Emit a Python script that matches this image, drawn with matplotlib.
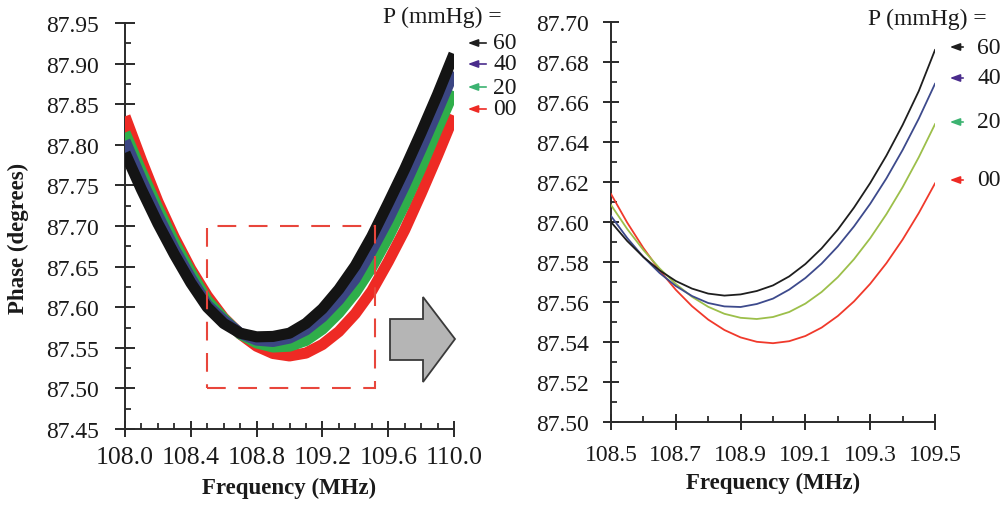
import matplotlib
matplotlib.use("Agg")
import matplotlib.pyplot as plt
from matplotlib.patches import Polygon, Rectangle, FancyArrowPatch
from matplotlib.ticker import FixedLocator, FormatStrFormatter

plt.rcParams['font.family'] = ['Liberation Serif', 'DejaVu Serif']

# ---------------- data ----------------
pressures = ["60", "40", "20", "00"]

# left panel: measured phase bands (center of scatter), 108.0 .. 110.0 MHz
freq_full = [108.0, 108.1, 108.2, 108.3, 108.4, 108.5, 108.6, 108.7, 108.8, 108.9,
             109.0, 109.1, 109.2, 109.3, 109.4, 109.5, 109.6, 109.7, 109.8, 109.9, 110.0]
full_60 = [87.790, 87.745, 87.703, 87.665, 87.630, 87.600, 87.580, 87.568, 87.5635, 87.564,
           87.568, 87.580, 87.598, 87.622, 87.651, 87.687, 87.728, 87.770, 87.815, 87.862, 87.912]
full_40 = [87.805, 87.757, 87.713, 87.672, 87.636, 87.603, 87.584, 87.568, 87.5595, 87.5578,
           87.562, 87.572, 87.588, 87.609, 87.635, 87.670, 87.708, 87.750, 87.795, 87.842, 87.890]
full_20 = [87.815, 87.767, 87.722, 87.680, 87.643, 87.6085, 87.586, 87.567, 87.556, 87.551,
           87.552, 87.559, 87.573, 87.593, 87.618, 87.649, 87.686, 87.727, 87.772, 87.820, 87.866]
full_00 = [87.835, 87.781, 87.730, 87.686, 87.647, 87.614, 87.587, 87.567, 87.552, 87.543,
           87.540, 87.5435, 87.554, 87.570, 87.592, 87.620, 87.656, 87.695, 87.740, 87.787, 87.836]

# right panel: fitted curves, 108.5 .. 109.5 MHz
freq_zoom = [108.5, 108.55, 108.6, 108.65, 108.7, 108.75, 108.8, 108.85, 108.9, 108.95, 109.0,
             109.05, 109.1, 109.15, 109.2, 109.25, 109.3, 109.35, 109.4, 109.45, 109.5]
fit_60 = [87.6000, 87.5905, 87.5825, 87.5758, 87.5705, 87.5667, 87.5642, 87.5632, 87.5638, 87.5655,
          87.5683, 87.5728, 87.5790, 87.5868, 87.5962, 87.6072, 87.6195, 87.6332, 87.6485, 87.6655,
          87.6860]
fit_40 = [87.6030, 87.5920, 87.5825, 87.5745, 87.5680, 87.5630, 87.5595, 87.5578, 87.5575, 87.5590,
          87.5617, 87.5662, 87.5720, 87.5792, 87.5878, 87.5978, 87.6091, 87.6218, 87.6360, 87.6517,
          87.6691]
fit_20 = [87.6085, 87.5965, 87.5860, 87.5768, 87.5690, 87.5626, 87.5576, 87.5541, 87.5521, 87.5515,
          87.5525, 87.5550, 87.5592, 87.5650, 87.5724, 87.5814, 87.5919, 87.6039, 87.6174, 87.6324,
          87.6489]
fit_00 = [87.6140, 87.5997, 87.5870, 87.5758, 87.5661, 87.5579, 87.5512, 87.5460, 87.5423, 87.5401,
          87.5394, 87.5404, 87.5430, 87.5472, 87.5530, 87.5603, 87.5691, 87.5794, 87.5912, 87.6045,
          87.6193]

# tick positions / labels
left_xticks = [108.0, 108.4, 108.8, 109.2, 109.6, 110.0]
left_yticks = [87.45, 87.50, 87.55, 87.60, 87.65, 87.70, 87.75, 87.80, 87.85, 87.90, 87.95]
right_xticks = [108.5, 108.7, 108.9, 109.1, 109.3, 109.5]
right_yticks = [87.50, 87.52, 87.54, 87.56, 87.58, 87.60, 87.62, 87.64, 87.66, 87.68, 87.70]

left_colors = {"60": "#141414", "40": "#3b4683", "20": "#2fae4a", "00": "#ee2a24"}
right_colors = {"60": "#1e1e1e", "40": "#3d4a8c", "20": "#9cbf4a", "00": "#f0392b"}
arrow_colors = {"60": "#1e1e1e", "40": "#4a2c8c", "20": "#3cb371", "00": "#ee2a24"}

W, H = 1005, 506
fig = plt.figure(figsize=(W / 100, H / 100), dpi=100)


def fx(x):
    return x / W


def fy(y):
    return 1 - y / H


axis_col = "#2a2a2a"


def minor_between(ticks):
    out = []
    for a, b in zip(ticks[:-1], ticks[1:]):
        out.append((a + b) / 2)
    return out


def style_axes(ax, ypad, xpad, maj_len_y, maj_len_x):
    for s in ["top", "right"]:
        ax.spines[s].set_visible(False)
    for s in ["left", "bottom"]:
        ax.spines[s].set_color(axis_col)
        ax.spines[s].set_linewidth(1.4)
    ax.tick_params(axis="y", which="major", direction="inout", length=maj_len_y, width=1.4,
                   color=axis_col, pad=ypad, labelsize=17, labelcolor="#1a1a1a")
    ax.tick_params(axis="x", which="major", direction="inout", length=maj_len_x, width=1.4,
                   color=axis_col, pad=xpad, labelsize=17, labelcolor="#1a1a1a")
    ax.tick_params(which="minor", direction="in", length=4.5, width=1.3, color=axis_col)


# ---------------- left panel ----------------
axL = fig.add_axes([fx(125), fy(430), (454 - 125) / W, (430 - 24) / H])
axL.set_xlim(108.0, 110.0)
axL.set_ylim(87.45, 87.95)
series_full = {"60": full_60, "40": full_40, "20": full_20, "00": full_00}
for key in ["00", "20", "40", "60"]:
    axL.plot(freq_full, series_full[key], color=left_colors[key], lw=8,
             solid_capstyle="butt", solid_joinstyle="round", zorder=3)
axL.xaxis.set_major_locator(FixedLocator(left_xticks))
lx_minor = []
for a, b in zip(left_xticks[:-1], left_xticks[1:]):
    lx_minor += [a + (b - a) * k / 4 for k in (1, 2, 3)]
axL.xaxis.set_minor_locator(FixedLocator(lx_minor))
axL.yaxis.set_major_locator(FixedLocator(left_yticks))
axL.yaxis.set_minor_locator(FixedLocator(minor_between(left_yticks)))
axL.xaxis.set_major_formatter(FormatStrFormatter("%.1f"))
axL.yaxis.set_major_formatter(FormatStrFormatter("%.2f"))
style_axes(axL, ypad=12, xpad=7, maj_len_y=14, maj_len_x=11)
for lab in axL.get_xticklabels():
    lab.set_fontsize(18.5)
axL.add_patch(Rectangle((108.5, 87.50), 1.02, 0.20, fill=False, ec="#e8463c", lw=1.5,
                        ls=(0, (9, 6)), zorder=4))

# ---------------- right panel ----------------
axR = fig.add_axes([fx(611), fy(423), (935 - 611) / W, (423 - 23) / H])
axR.set_xlim(108.5, 109.5)
axR.set_ylim(87.50, 87.70)
series_fit = {"60": fit_60, "40": fit_40, "20": fit_20, "00": fit_00}
for key in ["00", "20", "40", "60"]:
    axR.plot(freq_zoom, series_fit[key], color=right_colors[key], lw=1.3, zorder=3)
axR.xaxis.set_major_locator(FixedLocator(right_xticks))
axR.xaxis.set_minor_locator(FixedLocator(minor_between(right_xticks)))
axR.yaxis.set_major_locator(FixedLocator(right_yticks))
axR.yaxis.set_minor_locator(FixedLocator(minor_between(right_yticks)))
axR.xaxis.set_major_formatter(FormatStrFormatter("%.1f"))
axR.yaxis.set_major_formatter(FormatStrFormatter("%.2f"))
style_axes(axR, ypad=10, xpad=10, maj_len_y=12, maj_len_x=12)

# ---------------- labels ----------------
fig.text(fx(18), fy(238), "Phase (degrees)", rotation=90, ha="center", va="center",
         fontsize=16.5, fontweight="bold", color="#1a1a1a")
fig.text(fx(289.5), fy(488), "Frequency (MHz)", ha="center", va="center",
         fontsize=16.5, fontweight="bold", color="#1a1a1a")
fig.text(fx(773), fy(483), "Frequency (MHz)", ha="center", va="center",
         fontsize=16.5, fontweight="bold", color="#1a1a1a")

fig.text(fx(383), fy(17), "P (mmHg) =", ha="left", va="center", fontsize=17, color="#1a1a1a")
fig.text(fx(868), fy(19), "P (mmHg) =", ha="left", va="center", fontsize=17, color="#1a1a1a")


def label_arrow(x0, x1, xt, y, key):
    arr = FancyArrowPatch((fx(x1), fy(y)), (fx(x0), fy(y)), transform=fig.transFigure,
                          arrowstyle="-|>,head_length=6,head_width=2.2", mutation_scale=1,
                          color=arrow_colors[key], lw=1.2)
    fig.add_artist(arr)
    fig.text(fx(xt), fy(y), key, ha="left", va="center", fontsize=17, color="#1a1a1a")


for key, y in zip(pressures, [44, 65, 88, 110]):
    label_arrow(465, 489, 493, y, key)
for key, y in zip(pressures, [48, 79, 123, 181]):
    label_arrow(947, 966, 977, y, key)

# gray block arrow
pts = [(390, 320), (423, 320), (423, 298), (455, 340), (423, 383), (423, 361), (390, 361)]
fig.add_artist(Polygon([(fx(x), fy(y)) for x, y in pts], closed=True, transform=fig.transFigure,
                       fc="#b5b5b5", ec="#3a3a3a", lw=1.3))

fig.savefig("out.png", dpi=100)
